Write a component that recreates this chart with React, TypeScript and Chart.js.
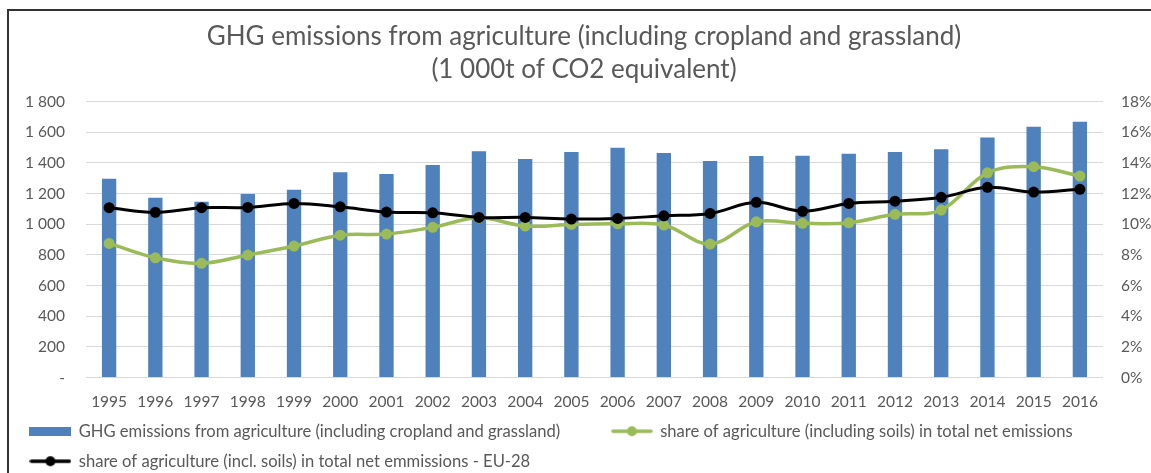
import React, { useEffect, useRef } from 'react';
import { Chart, registerables } from 'chart.js';

Chart.register(...registerables);

const years = ['1995', '1996', '1997', '1998', '1999', '2000', '2001', '2002', '2003', '2004', '2005', '2006', '2007', '2008', '2009', '2010', '2011', '2012', '2013', '2014', '2015', '2016'];
const ghgEmissions = [1297, 1173, 1147, 1197, 1225, 1339, 1328, 1387, 1476, 1426, 1471, 1500, 1465, 1413, 1445, 1447, 1460, 1471, 1489, 1567, 1636, 1669];
const shareAgriculture = [8.75, 7.81, 7.45, 7.99, 8.58, 9.29, 9.36, 9.8, 10.42, 9.88, 9.99, 10.03, 9.95, 8.71, 10.16, 10.06, 10.1, 10.65, 10.93, 13.36, 13.76, 13.15];
const shareEU28 = [11.08, 10.78, 11.08, 11.1, 11.36, 11.14, 10.8, 10.75, 10.45, 10.45, 10.34, 10.38, 10.55, 10.71, 11.43, 10.85, 11.36, 11.51, 11.76, 12.41, 12.1, 12.28];
const emissionTicks = [0, 200, 400, 600, 800, 1000, 1200, 1400, 1600, 1800];
const shareTicks = [0, 2, 4, 6, 8, 10, 12, 14, 16, 18];

const titleLines = ['GHG emissions from agriculture (including cropland and grassland)', '(1 000t of CO2 equivalent)'];
const seriesLabels = [
  'GHG emissions from agriculture (including cropland and grassland)',
  'share of agriculture (including soils) in total net emissions',
  'share of agriculture (incl. soils) in total net emmissions - EU-28',
];

const BLUE = '#4F81BD';
const GREEN = '#9BBB59';
const BLACK = '#000000';
const TEXT = '#595959';
const FONT = 'Lato';
const LEGEND_SIZE = 16.6;

function barMarker(): HTMLCanvasElement {
  const c = document.createElement('canvas');
  c.width = 42;
  c.height = 9;
  const ctx = c.getContext('2d')!;
  ctx.fillStyle = BLUE;
  ctx.fillRect(0, 0, 42, 9);
  return c;
}

function lineMarker(color: string): HTMLCanvasElement {
  const c = document.createElement('canvas');
  c.width = 42;
  c.height = 12;
  const ctx = c.getContext('2d')!;
  ctx.strokeStyle = color;
  ctx.lineWidth = 3.5;
  ctx.lineCap = 'round';
  ctx.beginPath();
  ctx.moveTo(2, 6);
  ctx.lineTo(40, 6);
  ctx.stroke();
  ctx.fillStyle = color;
  ctx.beginPath();
  ctx.arc(21, 6, 5, 0, Math.PI * 2);
  ctx.fill();
  return c;
}

function formatThousands(v: number): string {
  if (v === 0) return '-';
  if (v >= 1000) return `${Math.floor(v / 1000)} ${String(v % 1000).padStart(3, '0')}`;
  return String(v);
}

export default function App() {
  const ref = useRef<HTMLCanvasElement | null>(null);

  useEffect(() => {
    if (!ref.current) return;
    const markers = [barMarker(), lineMarker(GREEN), lineMarker(BLACK)];
    const chart = new Chart(ref.current, {
      type: 'bar',
      data: {
        labels: years,
        datasets: [
          {
            type: 'bar',
            label: seriesLabels[0],
            data: ghgEmissions,
            backgroundColor: BLUE,
            yAxisID: 'y',
            order: 3,
            barPercentage: 0.31,
            categoryPercentage: 1,
          },
          {
            type: 'line',
            label: seriesLabels[1],
            data: shareAgriculture,
            borderColor: GREEN,
            backgroundColor: GREEN,
            borderWidth: 3.5,
            pointRadius: 5.5,
            pointBorderWidth: 0,
            pointBackgroundColor: GREEN,
            tension: 0.35,
            yAxisID: 'y1',
            order: 2,
          },
          {
            type: 'line',
            label: seriesLabels[2],
            data: shareEU28,
            borderColor: BLACK,
            backgroundColor: BLACK,
            borderWidth: 3,
            pointRadius: 5.5,
            pointBorderWidth: 0,
            pointBackgroundColor: BLACK,
            tension: 0.35,
            yAxisID: 'y1',
            order: 1,
          },
        ],
      } as any,
      options: {
        responsive: false,
        animation: false,
        layout: { padding: { left: 17, right: 0, top: 0, bottom: -6.5 } },
        plugins: {
          tooltip: { enabled: false },
          title: {
            display: true,
            text: titleLines,
            color: TEXT,
            font: { family: FONT, size: 26, weight: 'normal', lineHeight: 33 / 26 },
            padding: { top: 20, bottom: 15.7 },
          },
          legend: {
            position: 'bottom',
            align: 'start',
            labels: {
              usePointStyle: true,
              pointStyleWidth: 40,
              padding: 30 - LEGEND_SIZE,
              color: TEXT,
              font: { family: FONT, size: LEGEND_SIZE },
              generateLabels: () =>
                seriesLabels.map((text, i) => ({
                  text: i === 0 ? text + '         ' : text,
                  pointStyle: markers[i],
                  datasetIndex: i,
                  fillStyle: 'transparent',
                  strokeStyle: 'transparent',
                  lineWidth: 0,
                  hidden: false,
                  fontColor: TEXT,
                })) as any,
            },
          },
        },
        scales: {
          x: {
            grid: { display: false, drawTicks: false },
            border: { display: false },
            ticks: { color: TEXT, font: { family: FONT, size: 15.5 }, padding: 15.5, maxRotation: 0, autoSkip: false },
            afterFit: (s: any) => {
              s.height = 32;
            },
          },
          y: {
            position: 'left',
            min: 0,
            max: 1800,
            afterBuildTicks: (s: any) => {
              s.ticks = emissionTicks.map((v) => ({ value: v }));
            },
            grid: { color: '#D9D9D9', lineWidth: 1, drawTicks: false },
            border: { display: false },
            ticks: {
              color: TEXT,
              font: { family: FONT, size: 15.5 },
              padding: 21,
              callback: (v: any) => formatThousands(Number(v)),
            },
            afterFit: (s: any) => {
              s.width = 69;
            },
          },
          y1: {
            position: 'right',
            min: 0,
            max: 18,
            afterBuildTicks: (s: any) => {
              s.ticks = shareTicks.map((v) => ({ value: v }));
            },
            grid: { display: false, drawTicks: false },
            border: { display: false },
            ticks: {
              color: TEXT,
              font: { family: FONT, size: 15.5 },
              padding: 18,
              callback: (v: any) => `${v}%`,
            },
            afterFit: (s: any) => {
              s.width = 48;
            },
          },
        },
      } as any,
    });
    return () => chart.destroy();
  }, []);

  return (
    <div>
      <div
        style={{
          position: 'absolute',
          left: 7,
          top: 9,
          width: 1144,
          height: 464,
          borderLeft: '2px solid #333333',
          borderTop: '2px solid #333333',
          boxSizing: 'border-box',
        }}
      />
      <canvas ref={ref} width={1151} height={473} style={{ position: 'absolute', left: 0, top: 0, width: 1151, height: 473 }} />
    </div>
  );
}
